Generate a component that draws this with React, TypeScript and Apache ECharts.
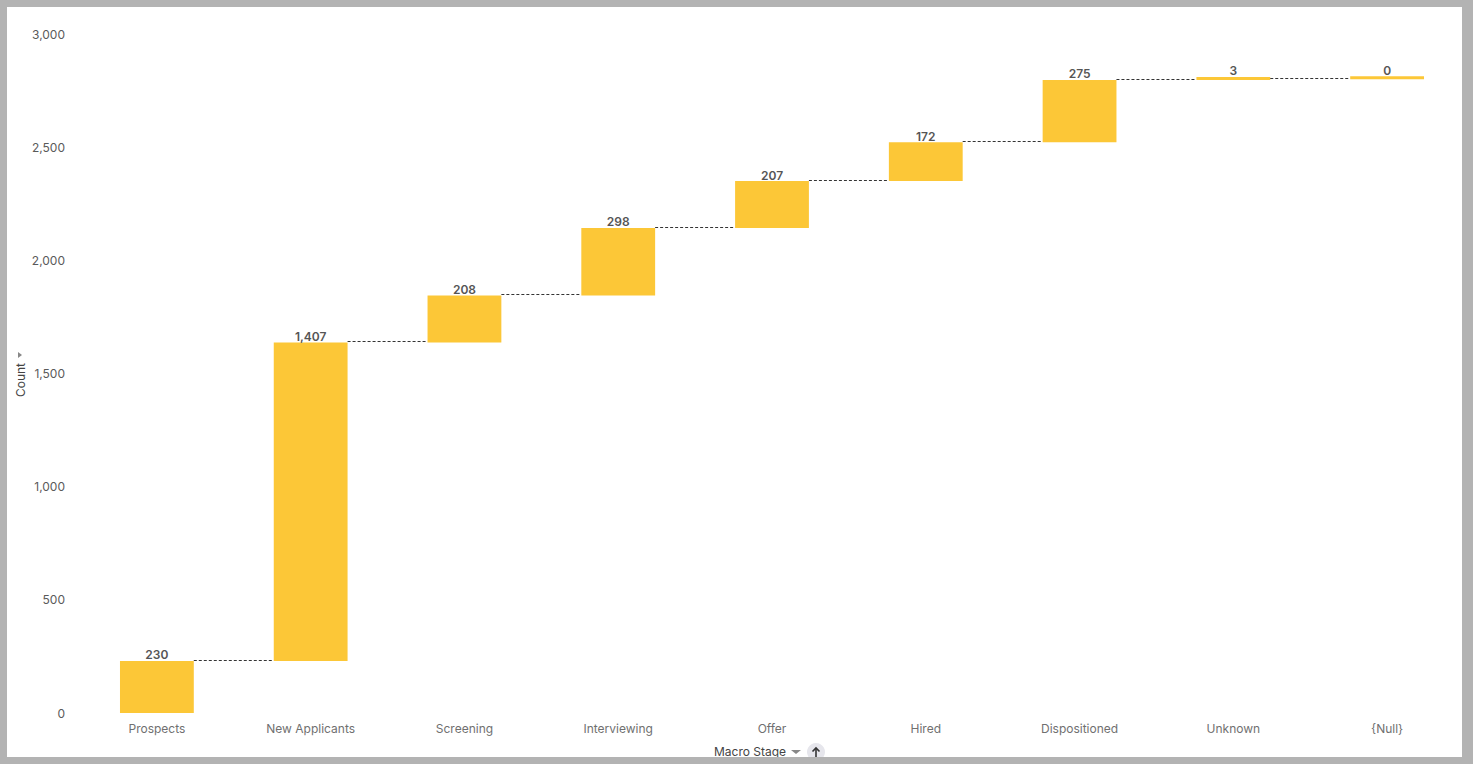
import React, { useEffect, useRef } from "react";
import * as echarts from "echarts";

const categories = ["Prospects", "New Applicants", "Screening", "Interviewing", "Offer", "Hired", "Dispositioned", "Unknown", "{Null}"];
const counts = [230, 1407, 208, 298, 207, 172, 275, 3, 0];
const yTicks = { min: 0, max: 3000, interval: 500 };

const bases: number[] = [];
const ends: number[] = [];
{
  let acc = 0;
  for (const c of counts) {
    bases.push(acc);
    acc += c;
    ends.push(acc);
  }
}
const connectors = ends.slice(0, -1).map((v, i) => [i, v]);

const FONT = "Inter, 'Noto Sans', sans-serif";
const BAR_COLOR = "#fcc737";

export default function App() {
  const ref = useRef<HTMLDivElement>(null);
  useEffect(() => {
    if (!ref.current) return;
    const chart = echarts.init(ref.current, undefined, { renderer: "svg" });
    chart.setOption({
      animation: false,
      backgroundColor: "#ffffff",
      textStyle: { fontFamily: FONT },
      grid: { left: 80, right: 9, top: 34, bottom: 51, containLabel: false },
      xAxis: {
        type: "category",
        data: categories,
        axisLine: { show: false },
        axisTick: { show: false },
        axisLabel: { color: "#707070", fontSize: 12, fontFamily: FONT, margin: 9 },
      },
      yAxis: {
        type: "value",
        min: yTicks.min,
        max: yTicks.max,
        interval: yTicks.interval,
        splitLine: { show: false },
        axisLine: { show: false },
        axisTick: { show: false },
        axisLabel: { color: "#5a5a5a", fontSize: 12, fontFamily: FONT, margin: 15 },
      },
      series: [
        {
          type: "bar",
          stack: "w",
          data: bases,
          barWidth: "48%",
          itemStyle: { color: "transparent" },
          emphasis: { disabled: true },
          silent: true,
        },
        {
          type: "bar",
          stack: "w",
          data: counts,
          barWidth: "48%",
          barMinHeight: 3,
          itemStyle: { color: BAR_COLOR },
          label: {
            show: true,
            position: "top",
            distance: 0,
            color: "#555555",
            fontSize: 12,
            fontWeight: 600,
            fontFamily: FONT,
            formatter: (p: any) => Number(p.value).toLocaleString("en-US"),
          },
        },
        {
          type: "custom",
          data: connectors,
          silent: true,
          z: 5,
          renderItem: (params: any, api: any) => {
            const p = api.coord([api.value(0), api.value(1)]);
            const band = api.size([1, 0])[0];
            const bw = band * 0.48;
            const y = Math.round(p[1]) - 0.5;
            return {
              type: "line",
              shape: { x1: p[0] + bw / 2, y1: y, x2: p[0] + band - bw / 2, y2: y },
              style: { stroke: "#333333", lineWidth: 1, lineDash: [3, 2] },
            };
          },
        },
      ],
      graphic: [
        {
          type: "text",
          x: 20,
          y: 380,
          rotation: Math.PI / 2,
          style: {
            text: "Count",
            fill: "#444444",
            font: `12px ${FONT}`,
            align: "center",
            verticalAlign: "middle",
          },
        },
        {
          type: "polygon",
          shape: { points: [[18, 352], [22, 355], [18, 358]] },
          style: { fill: "#888888" },
        },
        {
          type: "text",
          x: 750,
          y: 751,
          style: {
            text: "Macro Stage",
            fill: "#444444",
            font: `12px ${FONT}`,
            align: "center",
            verticalAlign: "middle",
          },
        },
        {
          type: "polygon",
          shape: { points: [[791, 750], [801, 750], [796, 754]] },
          style: { fill: "#888888" },
        },
        {
          type: "circle",
          shape: { cx: 816, cy: 752, r: 9 },
          style: { fill: "#e6e6ec" },
        },
        {
          type: "line",
          shape: { x1: 816, y1: 748, x2: 816, y2: 757 },
          style: { stroke: "#333333", lineWidth: 1.6 },
        },
        {
          type: "polyline",
          shape: { points: [[812.5, 751.5], [816, 748], [819.5, 751.5]] },
          style: { stroke: "#333333", lineWidth: 1.6, fill: null },
        },
      ],
    });
    return () => chart.dispose();
  }, []);

  return (
    <div style={{ position: "fixed", left: 0, top: 0, width: 1473, height: 764, background: "#ffffff" }}>
      <div ref={ref} style={{ position: "absolute", left: 0, top: 0, width: 1473, height: 764 }} />
      <div
        style={{
          position: "absolute",
          left: 0,
          top: 0,
          width: 1473,
          height: 764,
          boxSizing: "border-box",
          borderStyle: "solid",
          borderColor: "#b3b3b3",
          borderWidth: "7px 11px 7px 7px",
          pointerEvents: "none",
        }}
      />
    </div>
  );
}
